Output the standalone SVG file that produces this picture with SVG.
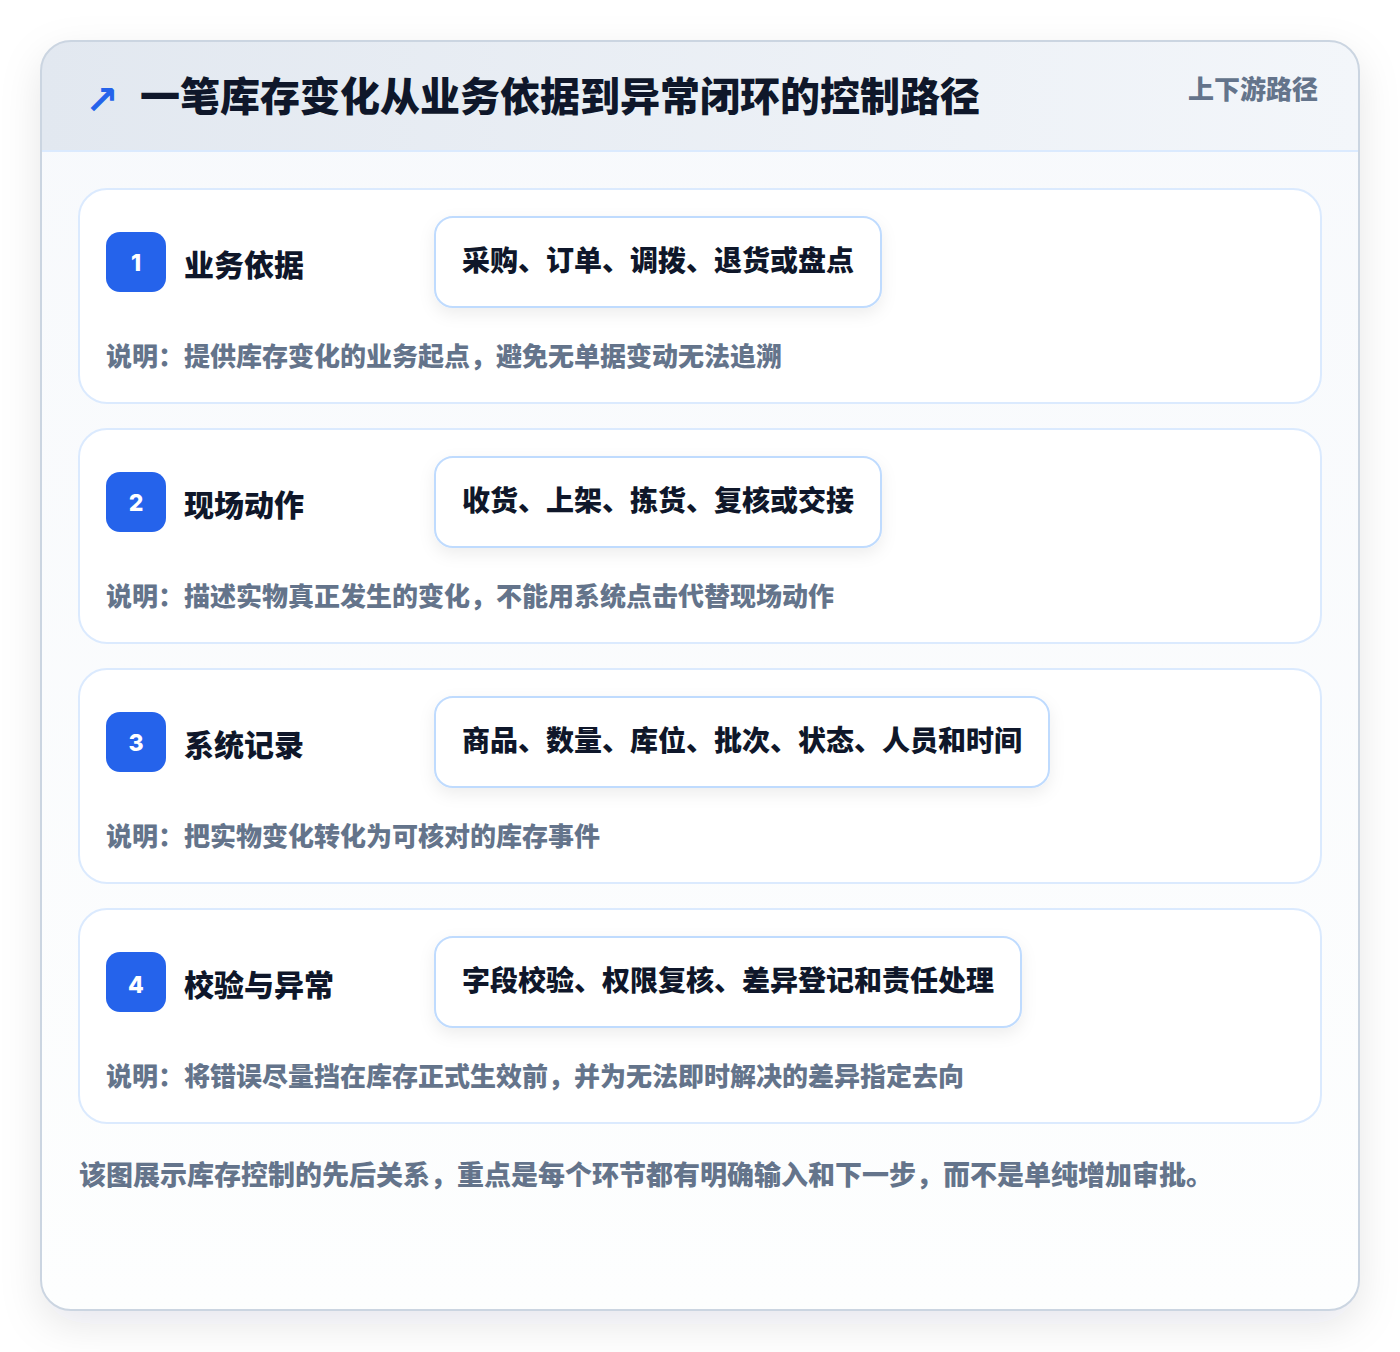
<svg xmlns="http://www.w3.org/2000/svg" width="1400" height="1352" viewBox="0 0 1400 1352">
  <defs>
    <linearGradient id="hdrGrad" x1="0" y1="0" x2="1" y2="0">
      <stop offset="0" stop-color="#e2e8f0"/>
      <stop offset="1" stop-color="#f3f6fa"/>
    </linearGradient>
    <linearGradient id="bodyGrad" x1="0" y1="0" x2="0" y2="1">
      <stop offset="0" stop-color="#f7f9fc"/>
      <stop offset="1" stop-color="#fdfefe"/>
    </linearGradient>
    <filter id="outerShadow" x="-10%" y="-10%" width="120%" height="125%">
      <feDropShadow dx="0" dy="14" stdDeviation="20" flood-color="#0f172a" flood-opacity="0.10"/>
    </filter>
    <filter id="pillShadow" x="-10%" y="-30%" width="120%" height="180%">
      <feDropShadow dx="0" dy="6" stdDeviation="8" flood-color="#0f172a" flood-opacity="0.07"/>
    </filter>
    <clipPath id="outerClip">
      <rect x="41" y="41" width="1318" height="1269" rx="30"/>
    </clipPath>
  </defs>
  <style>
    text { font-family: "Noto Sans CJK SC", "Noto Sans", "Liberation Sans", sans-serif; font-weight: 900; }
    .title { font-size: 40px; fill: #0f172a; }
    .tag { font-size: 26px; fill: #64748b; }
    .card { fill: #ffffff; stroke: #dbeafe; stroke-width: 2; }
    .badge { fill: #2563eb; }
    .num { font-size: 23px; fill: #ffffff; font-family: "Inter", "Noto Sans", sans-serif; font-weight: 800; }
    .stitle { font-size: 30px; fill: #0f172a; }
    .pill { fill: #ffffff; stroke: #bfdbfe; stroke-width: 2; filter: url(#pillShadow); }
    .ptext { font-size: 28px; fill: #0f172a; }
    .desc { font-size: 26px; fill: #64748b; }
    .foot { font-size: 27px; fill: #64748b; }
  </style>

  <rect x="0" y="0" width="1400" height="1352" fill="#ffffff"/>

  <g id="frame">
    <rect x="41" y="41" width="1318" height="1269" rx="30" fill="url(#bodyGrad)" filter="url(#outerShadow)"/>
    <g clip-path="url(#outerClip)">
      <rect x="41" y="41" width="1318" height="110" fill="url(#hdrGrad)"/>
      <line x1="41" y1="151" x2="1359" y2="151" stroke="#dbeafe" stroke-width="2"/>
    </g>
    <rect x="41" y="41" width="1318" height="1269" rx="30" fill="none" stroke="#cbd5e1" stroke-width="2"/>
  </g>

  <g id="header">
    <text x="85" y="114" font-size="40" fill="#2563eb" style="font-family:'DejaVu Sans','Noto Sans CJK SC',sans-serif;font-weight:700">↗</text>
    <text class="title" x="140" y="111">一笔库存变化从业务依据到异常闭环的控制路径</text>
    <text class="tag" x="1318" y="99" text-anchor="end">上下游路径</text>
  </g>

  <g id="connectors"/>

  <g id="step1">
    <rect class="card" x="79" y="189" width="1242" height="214" rx="28"/>
    <rect class="badge" x="106" y="232" width="60" height="60" rx="14"/>
    <text class="num" x="136" y="271" text-anchor="middle">1</text>
    <text class="stitle" x="184" y="276">业务依据</text>
    <rect class="pill" x="435" y="217" width="446" height="90" rx="18"/>
    <text class="ptext" x="658" y="271" text-anchor="middle">采购、订单、调拨、退货或盘点</text>
    <text class="desc" x="106" y="366">说明：提供库存变化的业务起点，避免无单据变动无法追溯</text>
  </g>

  <g id="step2">
    <rect class="card" x="79" y="429" width="1242" height="214" rx="28"/>
    <rect class="badge" x="106" y="472" width="60" height="60" rx="14"/>
    <text class="num" x="136" y="511" text-anchor="middle">2</text>
    <text class="stitle" x="184" y="516">现场动作</text>
    <rect class="pill" x="435" y="457" width="446" height="90" rx="18"/>
    <text class="ptext" x="658" y="511" text-anchor="middle">收货、上架、拣货、复核或交接</text>
    <text class="desc" x="106" y="606">说明：描述实物真正发生的变化，不能用系统点击代替现场动作</text>
  </g>

  <g id="step3">
    <rect class="card" x="79" y="669" width="1242" height="214" rx="28"/>
    <rect class="badge" x="106" y="712" width="60" height="60" rx="14"/>
    <text class="num" x="136" y="751" text-anchor="middle">3</text>
    <text class="stitle" x="184" y="756">系统记录</text>
    <rect class="pill" x="435" y="697" width="614" height="90" rx="18"/>
    <text class="ptext" x="742" y="751" text-anchor="middle">商品、数量、库位、批次、状态、人员和时间</text>
    <text class="desc" x="106" y="846">说明：把实物变化转化为可核对的库存事件</text>
  </g>

  <g id="step4">
    <rect class="card" x="79" y="909" width="1242" height="214" rx="28"/>
    <rect class="badge" x="106" y="952" width="60" height="60" rx="14"/>
    <text class="num" x="136" y="993" text-anchor="middle">4</text>
    <text class="stitle" x="184" y="996">校验与异常</text>
    <rect class="pill" x="435" y="937" width="586" height="90" rx="18"/>
    <text class="ptext" x="728" y="991" text-anchor="middle">字段校验、权限复核、差异登记和责任处理</text>
    <text class="desc" x="106" y="1086">说明：将错误尽量挡在库存正式生效前，并为无法即时解决的差异指定去向</text>
  </g>

  <g id="footer">
    <text class="foot" x="79" y="1185">该图展示库存控制的先后关系，重点是每个环节都有明确输入和下一步，而不是单纯增加审批。</text>
  </g>
</svg>
